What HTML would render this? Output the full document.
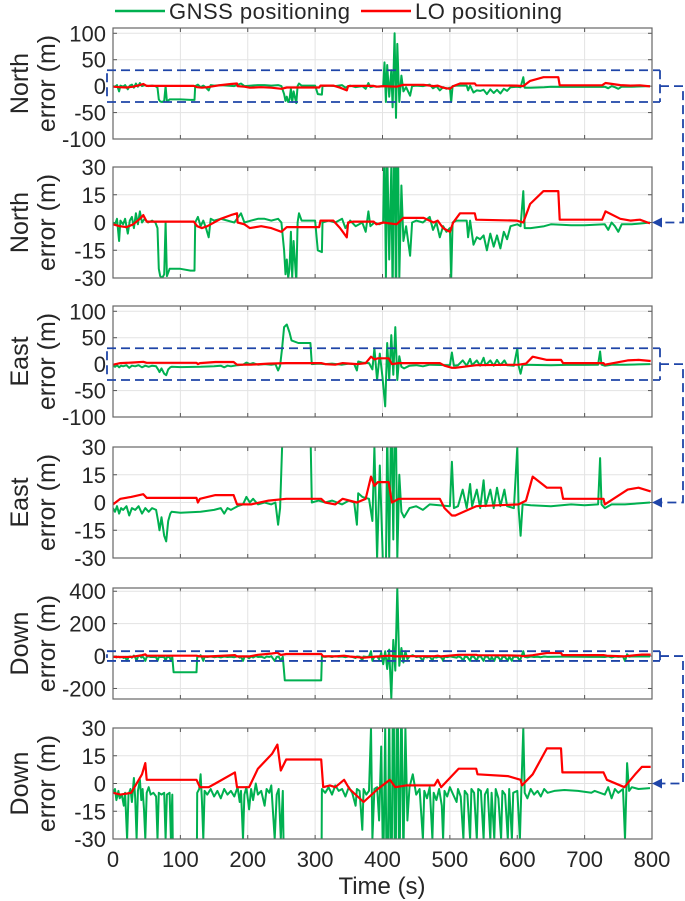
<!DOCTYPE html>
<html><head><meta charset="utf-8"><style>
body{margin:0;background:#fff}
svg{display:block;font-family:"Liberation Sans",Arial,sans-serif}
</style></head><body>
<svg id="c" width="685" height="901" viewBox="0 0 685 901" xmlns="http://www.w3.org/2000/svg"></svg>
<script>
const xTicks=[0,100,200,300,400,500,600,700,800];
const bigTicks=[100,50,0,-50,-100];
const downTicks=[400,200,0,-200];
const zoomTicks=[30,15,0,-15,-30];
const northGnssT=[0,3,6,9,11,15,18,22,25,28,31,34,37,40,43,47,52,58,63,66,68,70,73,76,78,80,84,100,115,121,122,126,130,134,138,142,145,150,160,170,180,190,195,205,215,225,235,245,250,254,256,258,260,262,264,266,268,272,274,276,280,290,300,304,310,311,320,330,340,345,352,360,370,375,379,382,388,395,401,403,405,407,410,413,415,418,420,422,425,428,431,435,441,444,450,460,470,475,480,485,490,495,500,502,504,510,525,527,530,535,540,545,550,555,560,565,570,575,580,585,590,600,605,609,611,620,640,650,680,700,730,735,740,745,750,755,770,785,797];
const northGnssV=[0,-1,2,-10,1,-1,2,-6,1,3,-3,5,-1,6,0,2,0,1,0,-3,-25,-29,-30,-28,0,-29,-25,-25,-26,-26,0,3,-2,1,-3,-8,2,1,2,1,0,5,0,1,2,2,1,2,0,-15,-28,-20,-30,-25,-5,-30,-10,-32,0,5,1,1,1,-15,-16,0,1,0,2,-3,1,-2,0,-5,6,-2,0,-1,0,45,-30,40,-20,30,-40,100,-60,80,-30,20,-10,-2,-18,0,1,0,3,-4,0,-8,-2,-5,-3,-30,0,1,1,-8,1,-12,-8,-9,-7,-15,-6,-13,-7,-14,-5,-9,-2,-1,-2,17,-3,-3,-2,-1,-1.5,-1.5,-1,-4,0,-2,-5,-1,-1,-0.5,0];
const northLoT=[0,10,20,30,40,45,50,120,125,132,140,160,175,184,185,195,203,220,235,250,258,306,308,327,337,347,349,357,387,391,401,421,431,461,476,482,490,500,505,515,537,539,599,609,619,639,661,663,726,731,753,768,782,797];
const northLoV=[-1,-2,-2.5,-1,2,4,0.5,0.5,-2,-3,-2,2,4,5,0,-1,-3,-2,-3,-5,-2.5,-2.5,1,1,-3,-8,0,0.5,0.5,-1,0,-1,2.5,2.5,0,1,-3,-5,0,5,5,1.5,1,0,10,17,17,1.5,1.5,6,2,1,1.5,-0.5];
const eastGnssT=[0,3,6,9,12,15,20,24,28,33,38,43,48,53,58,64,67,69,72,76,79,82,85,87,100,130,150,160,165,170,175,185,193,198,203,208,215,225,235,241,245,248,251,254,258,262,265,275,290,293,295,305,315,325,340,350,358,362,364,370,380,385,388,392,396,400,404,407,410,413,416,419,422,425,428,432,440,450,460,470,500,503,506,512,519,525,530,533,540,545,550,553,560,565,570,575,581,585,595,600,602,605,608,620,650,680,700,720,723,725,730,740,760,780,797];
const eastGnssV=[-3,-5,-2,-6,-3,-4,-2,-7,-3,-4,-2,-6,-3,-5,-3,-4,-10,-15,-8,-18,-21,-10,-6,-5,-5.5,-5,-4,-3,-6,-3,-4,-2,-1,3,0,2,-1,0,-1,0,-12,-3,30,70,75,60,45,40,40,40,0,1,0,1,-1,1,0,-12,5,3,2,-10,30,-30,20,-25,-80,40,-30,55,-20,70,-30,15,-5,-8,-3,-2,-4,-1,-2,22,-3,-2,7,-3,10,-2,7,-3,12,-2,7,-3,8,-2,7,-2,-3,30,-3,-18,-1,-1.5,-2,-1,-1.5,-1,24,-1,-3,-1,-1,-0.5,0];
const eastLoT=[0,11,27,45,50,124,126,129,152,179,184,205,231,257,309,315,330,341,362,375,383,388,393,409,414,424,466,485,492,503,508,539,602,613,623,644,665,668,728,730,764,780,798];
const eastLoV=[-1,2,3,4.5,2.5,2.5,0,2,4,4,-1,-1,1,2,2,0,-1,2,0,2,14,9,11,11,0,2,2,2,-3,-7,-7,-2,-1,1,14,8,8,2,2,-1,7,8,6];
const downGnssT=[0,3,5,8,10,13,16,18,21,23,26,28,31,33,35,37,40,42,44,46,48,50,53,56,60,64,66,68,72,76,78,80,84,86,88,90,124,125,128,130,132,134,136,140,145,150,155,160,165,170,175,180,185,188,190,193,195,198,202,205,208,212,215,220,225,228,232,235,240,243,246,249,252,255,300,309,310,315,320,325,330,335,340,345,350,355,360,362,366,370,372,376,380,383,385,388,392,395,398,401,404,407,410,413,416,419,422,425,428,431,434,437,440,445,450,455,460,462,466,470,474,476,480,484,488,490,492,496,500,505,510,512,516,520,522,526,530,532,536,540,542,546,550,552,556,560,562,566,568,572,576,578,582,586,588,592,594,600,604,606,609,611,615,620,625,630,635,640,645,655,670,690,710,715,730,735,740,745,750,757,760,763,766,770,780,797];
const downGnssV=[-5,-3,-9,-4,-8,-6,-12,-5,-30,-6,-3,-10,3,-8,-30,-4,2,-9,-3,-14,-30,-5,-2,-6,-5,-7,-30,-5,-6,-5,-30,-6,-5,-30,-6,-100,-100,-5,-3,5,-9,-30,-4,-6,-3,-7,-4,-8,-3,-6,-4,-7,-2,-10,-4,-30,-6,-2,-14,-3,-9,0,-6,-4,-12,-3,-5,-1,-30,-6,-3,-30,-4,-150,-150,-150,-3,-5,-2,-6,-1,-4,-3,-7,-2,-5,-12,-3,-4,-25,-3,-6,-4,30,-30,-3,-2,-20,20,-50,30,-80,40,-260,100,-90,420,-60,50,-40,30,-20,-2,5,-6,-3,-30,-4,-8,-2,-30,-5,-9,-3,-12,-30,-4,-7,-2,-6,-10,-3,-7,-30,-4,-6,-30,-3,-5,-30,-3,-4,-30,-6,-3,-30,-5,-30,-3,-8,-30,-4,-6,-30,-3,-30,-5,-4,-30,-4,30,-5,-8,-3,-6,-4,-7,-3,-5,-4,-3.5,-4,-5,-4,-6,-2,-8,-3,-5,-3,-30,11,-4,-2,-3,-2.5];
const downLoT=[0,11,27,43,48,50,124,129,142,152,181,184,202,215,236,244,249,257,309,312,322,330,343,351,372,393,411,419,435,477,482,487,513,539,541,586,605,607,623,644,665,667,728,733,759,775,785,798];
const downLoV=[-5,-6,-5,5,11,2,2,-2,-2,0,6,-2,-2,8,16,21,7,13,13,-2,-1,-2,2,-3,-10,-3,2,-2,-1,-1,2,-2,8,8,5,4,2,-1,5,19,19,6,6,2,-2,5,9,9];

const NS='http://www.w3.org/2000/svg';
const svg=document.getElementById('c');
const X0=113,X1=652;
function xs(t){return X0+(t-0)/(800-0)*(X1-X0);}
function mk(tag,attrs,parent){const e=document.createElementNS(NS,tag);for(const k in attrs)e.setAttribute(k,attrs[k]);(parent||svg).appendChild(e);return e;}
const panels=[
 {top:28,lo:-100,hi:110,ticks:bigTicks,lab:'North',gT:northGnssT,gV:northGnssV,rT:northLoT,rV:northLoV,nm:'north-full'},
 {top:167,lo:-30,hi:30,ticks:zoomTicks,lab:'North',gT:northGnssT,gV:northGnssV,rT:northLoT,rV:northLoV,nm:'north-zoom'},
 {top:306,lo:-100,hi:110,ticks:bigTicks,lab:'East',gT:eastGnssT,gV:eastGnssV,rT:eastLoT,rV:eastLoV,nm:'east-full'},
 {top:447,lo:-30,hi:30,ticks:zoomTicks,lab:'East',gT:eastGnssT,gV:eastGnssV,rT:eastLoT,rV:eastLoV,nm:'east-zoom'},
 {top:588,lo:-265,hi:420,ticks:downTicks,lab:'Down',gT:downGnssT,gV:downGnssV,rT:downLoT,rV:downLoV,nm:'down-full'},
 {top:728,lo:-30,hi:30,ticks:zoomTicks,lab:'Down',gT:downGnssT,gV:downGnssV,rT:downLoT,rV:downLoV,nm:'down-zoom'}
];
const H=111;
panels.forEach((p,i)=>{
 const ys=v=>p.top+H-(v-p.lo)/(p.hi-p.lo)*H;
 p.ys=ys;
 const g=mk('g',{});
 
 
 const cp=mk('clipPath',{id:'cp'+i},g);
 mk('rect',{x:X0,y:p.top,width:X1-X0,height:H},cp);
 xTicks.forEach(t=>{const l=mk('line',{x1:xs(t),x2:xs(t),y1:p.top,y2:p.top+H,stroke:'#e3e3e3','stroke-width':1},g);
  
  mk('line',{x1:xs(t),x2:xs(t),y1:p.top+H,y2:p.top+H-4,stroke:'#555'},g);mk('line',{x1:xs(t),x2:xs(t),y1:p.top,y2:p.top+4,stroke:'#555'},g);});
 p.ticks.forEach(v=>{const l=mk('line',{x1:X0,x2:X1,y1:ys(v),y2:ys(v),stroke:'#e3e3e3'},g);
  
  mk('line',{x1:X0,x2:X0+4,y1:ys(v),y2:ys(v),stroke:'#555'},g);mk('line',{x1:X1,x2:X1-4,y1:ys(v),y2:ys(v),stroke:'#555'},g);
  const tx=mk('text',{x:106,y:ys(v)+8,'text-anchor':'end','font-size':22,fill:'#262626'},g);tx.textContent=v;
  });
 const lg=mk('g',{'clip-path':'url(#cp'+i+')'},g);
 const pts=(T,V)=>T.map((t,k)=>xs(t).toFixed(1)+','+ys(Math.max(p.lo-50,Math.min(p.hi+50,V[k]))).toFixed(1)).join(' ');
 const gl=mk('polyline',{points:pts(p.gT,p.gV),fill:'none',stroke:'#00b050','stroke-width':2,'stroke-linejoin':'round'},lg);
 
 const rl=mk('polyline',{points:pts(p.rT,p.rV),fill:'none',stroke:'#ff0000','stroke-width':2.2,'stroke-linejoin':'round'},lg);
 
 const bx=mk('rect',{x:X0,y:p.top,width:X1-X0,height:H,fill:'none',stroke:'#666','stroke-width':1.2},g);
 
 const cy=p.top+H/2;
 const yl=mk('text',{transform:'translate(28,'+cy+') rotate(-90)','text-anchor':'middle','font-size':25,fill:'#262626'},g);yl.textContent=p.lab;
 
 const yl2=mk('text',{transform:'translate(55,'+cy+') rotate(-90)','text-anchor':'middle','font-size':25,fill:'#262626'},g);yl2.textContent='error (m)';
 
});
[0,2,4].forEach(i=>{
 const p=panels[i],q=panels[i+1];
 const a=p.ys(30),b=p.ys(-30),m=p.ys(0),z=q.ys(0);
 const c=mk('g',{stroke:'#1f45a8','stroke-width':1.8,fill:'none','stroke-dasharray':'9,5'});
 
 mk('path',{d:`M107,${a}H660M107,${b}H660M107,${a+3}V${b-3}M660,${a}V${b}`},c);
 mk('path',{d:`M660,${m}H683V${z}H660`},c);
 const ar=mk('polygon',{points:`652,${z} 662,${z-5} 662,${z+5}`,fill:'#1f45a8',stroke:'none'});
 
});
xTicks.forEach(t=>{const tx=mk('text',{x:xs(t),y:867,'text-anchor':'middle','font-size':22,fill:'#262626'});tx.textContent=t;
 });
const xt=mk('text',{x:382,y:894,'text-anchor':'middle','font-size':24,fill:'#262626'});xt.textContent='Time (s)';

const lg=mk('g',{});
const l1=mk('line',{x1:115,x2:165,y1:11,y2:11,stroke:'#00b050','stroke-width':2.5},lg);

const t1=mk('text',{x:169,y:19,'font-size':22,fill:'#262626',textLength:181},lg);t1.textContent='GNSS positioning';

const l2=mk('line',{x1:361,x2:411,y1:11,y2:11,stroke:'#ff0000','stroke-width':2.5},lg);

const t2=mk('text',{x:415,y:19,'font-size':22,fill:'#262626',textLength:147},lg);t2.textContent='LO positioning';

</script>
</body></html>
